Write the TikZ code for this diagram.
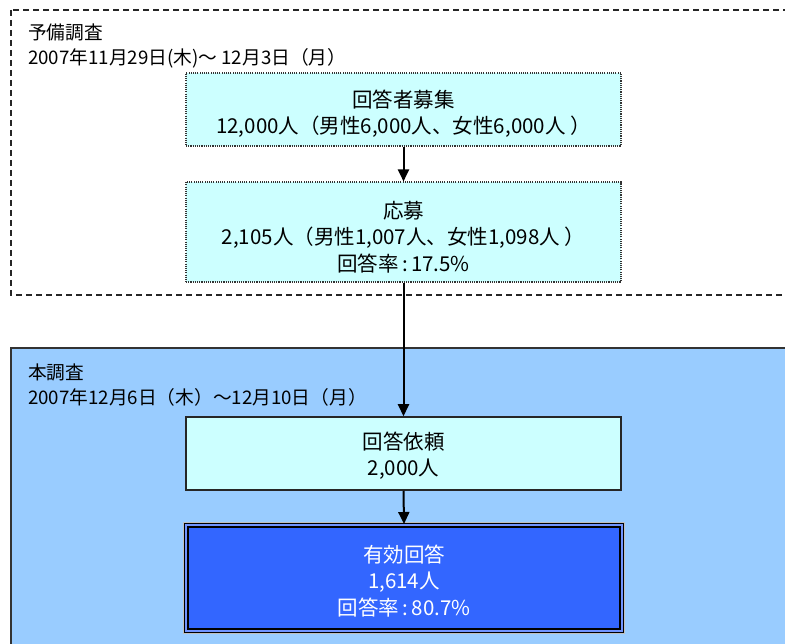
\documentclass[tikz,border=0pt]{standalone}
\usepackage{fontspec}
\setmainfont{Noto Sans CJK JP}
\usetikzlibrary{arrows.meta}
\definecolor{paleblue}{HTML}{CCFFFF}
\definecolor{skyblue}{HTML}{99CCFF}
\definecolor{royal}{HTML}{3366FF}
\tikzset{
  txt/.style={font=\fontsize{20.5}{26.5}\selectfont, align=center, inner sep=0pt},
  label/.style={font=\fontsize{18.7}{25}\selectfont, anchor=west, align=left, inner sep=0pt},
  prebox/.style={draw=black!80, line width=1.1pt, dash pattern=on 1.1pt off 1.1pt, fill=paleblue, minimum width=435pt, inner sep=0pt},
  mainbox/.style={draw=black!85, line width=1.5pt, fill=paleblue, minimum width=435pt, inner sep=0pt},
  resultbox/.style={draw=black, line width=2pt, double=royal!70!white, double distance=1.2pt, fill=royal, minimum width=436pt, minimum height=106pt, inner sep=0pt},
  arr/.style={line width=2pt, -{Triangle[width=11pt,length=12pt]}},
  outerdash/.style={line width=1.4pt, black!85, dash pattern=on 6pt off 4pt},
  outersolid/.style={line width=1.5pt, black!80, fill=skyblue}
}
\begin{document}
\begin{tikzpicture}[x=1pt,y=-1pt]
\clip (0,0) rectangle (785,644);
\fill[white] (0,0) rectangle (785,644);
% phase frames
\draw[outerdash] (11,10) rectangle (820,295);
\draw[outersolid] (11,348) rectangle (820,680);
% frame labels
\node[label] (prelabel) at (28,45.5) {予備調査\\2007年11月29日(木)～ 12月3日（月）};
\node[label] (mainlabel) at (28,385) {本調査\\2007年12月6日（木）～12月10日（月）};
% boxes
\node[prebox, minimum height=73pt] (recruit) at (403.5,109.5) {};
\node[txt] (recruittext) at ([yshift=-4pt]recruit.center) {回答者募集\\12,000人（男性6,000人、女性6,000人 ）};
\node[prebox, minimum height=100pt] (apply) at (403.5,232) {};
\node[txt] (applytext) at ([yshift=-5pt]apply.center) {応募\\2,105人（男性1,007人、女性1,098人 ）\\回答率\,:\,17.5\%};
\node[mainbox, minimum height=73pt] (request) at (403.5,453.5) {};
\node[txt] (requesttext) at ([yshift=-2pt]request.center) {回答依頼\\2,000人};
\node[resultbox] (valid) at (404,578) {};
\node[txt, text=white] (validtext) at ([yshift=-3pt]valid.center) {有効回答\\1,614人\\回答率\,:\,80.7\%};
\draw[gray!50, line width=0.8pt] ([shift={(-1.5pt,1.5pt)}]valid.north west) rectangle ([shift={(1.5pt,-1.5pt)}]valid.south east);
% connectors
\draw[arr] (recruit.south) -- (apply.north);
\draw[arr] (apply.south) -- (request.north);
\draw[arr] (request.south) -- (valid.north);
\end{tikzpicture}
\end{document}
